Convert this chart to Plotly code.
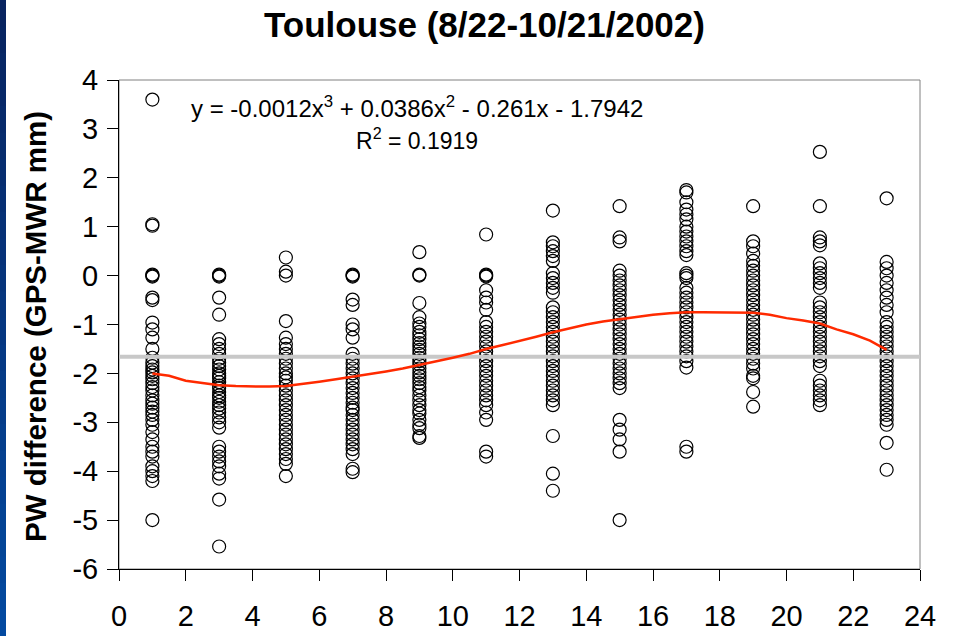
import plotly.graph_objects as go

# ---------------- data ----------------
HOURS = [1, 3, 5, 7, 9, 11, 13, 15, 17, 19, 21, 23]

H01 = [3.6, 1.05, 1.02, 0.02, 0.0, -0.02, -0.45, -0.5, -0.96, -1.1, -1.27, -1.5, -1.68, -1.78,
       -1.85, -1.92, -1.98, -2.05, -2.12, -2.2, -2.28, -2.35, -2.45, -2.55, -2.62, -2.7, -2.78,
       -2.85, -2.95, -3.05, -3.2, -3.35, -3.5, -3.6, -3.7, -3.9, -4.0, -4.1, -4.2, -5.0]
H03 = [0.02, 0.0, -0.02, -0.45, -0.8, -1.3, -1.4, -1.5, -1.6, -1.7, -1.78, -1.85, -1.92, -2.0,
       -2.05, -2.1, -2.18, -2.25, -2.3, -2.38, -2.45, -2.5, -2.58, -2.65, -2.72, -2.8, -2.9, -3.0,
       -3.11, -3.5, -3.6, -3.7, -3.8, -3.9, -4.05, -4.15, -4.58, -5.54]
H05 = [0.37, 0.08, 0.0, -0.93, -1.27, -1.4, -1.5, -1.6, -1.7, -1.8, -1.9, -2.0, -2.08, -2.15,
       -2.25, -2.35, -2.45, -2.55, -2.65, -2.75, -2.85, -2.95, -3.05, -3.15, -3.25, -3.35, -3.45,
       -3.55, -3.65, -3.75, -3.85, -4.1]
H07 = [0.02, 0.0, -0.02, -0.49, -0.6, -1.0, -1.1, -1.27, -1.6, -1.7, -1.8, -1.9, -2.0, -2.1,
       -2.2, -2.3, -2.4, -2.5, -2.6, -2.7, -2.75, -2.85, -2.95, -3.05, -3.15, -3.25, -3.35, -3.45,
       -3.55, -3.65, -3.95, -4.02]
H09 = [0.48, 0.02, 0.0, -0.56, -0.85, -0.98, -1.05, -1.15, -1.22, -1.3, -1.38, -1.45, -1.52,
       -1.6, -1.68, -1.75, -1.82, -1.9, -1.98, -2.05, -2.12, -2.2, -2.28, -2.35, -2.45, -2.55,
       -2.65, -2.75, -2.82, -2.95, -3.05, -3.12, -3.28, -3.32]
H11 = [0.84, 0.02, 0.0, -0.02, -0.3, -0.45, -0.55, -0.7, -0.95, -1.05, -1.15, -1.25, -1.35,
       -1.45, -1.55, -1.65, -1.75, -1.85, -1.95, -2.05, -2.15, -2.25, -2.35, -2.45, -2.55,
       -2.65, -2.8, -2.95, -3.6, -3.7]
H13 = [1.33, 0.68, 0.6, 0.5, 0.4, 0.3, 0.05, -0.05, -0.15, -0.25, -0.35, -0.65, -0.75, -0.85,
       -0.95, -1.05, -1.15, -1.25, -1.35, -1.45, -1.55, -1.65, -1.75, -1.85, -1.95, -2.05,
       -2.15, -2.25, -2.35, -2.45, -2.55, -2.65, -3.28, -4.05, -4.4]
H15 = [1.42, 0.78, 0.7, 0.1, 0.0, -0.1, -0.2, -0.3, -0.4, -0.5, -0.6, -0.7, -0.8, -0.9, -1.0,
       -1.1, -1.2, -1.3, -1.4, -1.5, -1.6, -1.7, -1.8, -1.9, -2.0, -2.1, -2.2, -2.3, -2.95,
       -3.15, -3.35, -3.6, -5.0]
H17 = [1.75, 1.7, 1.5, 1.35, 1.25, 1.15, 1.0, 0.9, 0.8, 0.7, 0.6, 0.5, 0.42, 0.05, 0.0, -0.05,
       -0.25, -0.35, -0.45, -0.55, -0.65, -0.75, -0.85, -0.95, -1.05, -1.15, -1.25, -1.35,
       -1.45, -1.55, -1.65, -1.75, -1.88, -3.5, -3.6]
H19 = [1.42, 0.7, 0.6, 0.45, 0.3, 0.2, 0.1, 0.0, -0.1, -0.2, -0.3, -0.4, -0.5, -0.6, -0.7,
       -0.8, -0.9, -1.0, -1.1, -1.2, -1.3, -1.4, -1.5, -1.6, -1.7, -1.8, -1.9, -2.05, -2.1,
       -2.38, -2.68]
H21 = [2.53, 1.42, 0.78, 0.7, 0.62, 0.25, 0.15, 0.05, -0.05, -0.15, -0.25, -0.55, -0.65,
       -0.75, -0.85, -0.95, -1.05, -1.15, -1.25, -1.35, -1.45, -1.55, -1.65, -1.75, -1.85,
       -2.15, -2.25, -2.35, -2.45, -2.55, -2.65]
H23 = [1.58, 0.28, 0.15, 0.0, -0.15, -0.3, -0.45, -0.6, -0.75, -0.95, -1.05, -1.15, -1.25,
       -1.35, -1.45, -1.55, -1.65, -1.75, -1.85, -1.95, -2.05, -2.15, -2.25, -2.35, -2.45,
       -2.55, -2.65, -2.75, -2.85, -2.95, -3.05, -3.42, -3.97]

COLUMNS = [H01, H03, H05, H07, H09, H11, H13, H15, H17, H19, H21, H23]

MEAN_DIFF = -1.66

TREND_X = [1.0, 1.5, 2.0, 2.5, 3.0, 3.5, 4.0, 4.5, 5.0, 5.5, 6.0, 6.5, 7.0, 7.5, 8.0, 8.5,
           9.0, 9.5, 10.0, 10.5, 11.0, 11.5, 12.0, 12.5, 13.0, 13.5, 14.0, 14.5, 15.0, 15.5,
           16.0, 16.5, 17.0, 17.5, 18.0, 18.5, 19.0, 19.5, 20.0, 20.5, 21.0, 21.5, 22.0, 22.5,
           23.0]
TREND_Y = [-2.0, -2.05, -2.15, -2.2, -2.24, -2.26, -2.27, -2.27, -2.26, -2.22, -2.17, -2.12,
           -2.07, -2.02, -1.96, -1.9, -1.83, -1.76, -1.68, -1.6, -1.5, -1.42, -1.34, -1.25,
           -1.16, -1.08, -1.0, -0.94, -0.89, -0.84, -0.8, -0.77, -0.75, -0.75, -0.75, -0.75,
           -0.76, -0.8, -0.87, -0.92, -0.98, -1.1, -1.2, -1.33, -1.52]

X_TICKS = list(range(0, 25, 2))
Y_TICKS = list(range(-6, 5, 1))

TITLE = "Toulouse (8/22-10/21/2002)"
Y_TITLE = "PW difference (GPS-MWR mm)"
EQUATION = "y = -0.0012x<sup>3</sup> + 0.0386x<sup>2</sup> - 0.261x - 1.7942"
R_SQUARED = "R<sup>2</sup> = 0.1919"

# ---------------- layout geometry ----------------
W, H = 956, 636
ML, MR, MT, MB = 119, 36, 80, 67
PWID = W - ML - MR
PHGT = H - MT - MB


def px_x(p):
    return (p - ML) / PWID


def px_y(p):
    return (H - MB - p) / PHGT


FONT = "Liberation Sans, Arial, sans-serif"

xs, ys = [], []
for h, vals in zip(HOURS, COLUMNS):
    xs += [h] * len(vals)
    ys += vals

fig = go.Figure()
fig.add_trace(go.Scatter(
    x=xs, y=ys, mode="markers",
    marker=dict(symbol="circle-open", size=13, color="black", line=dict(width=1.2)),
    showlegend=False, hoverinfo="skip"))
fig.add_trace(go.Scatter(
    x=[0, 24], y=[MEAN_DIFF, MEAN_DIFF], mode="lines",
    line=dict(color="#c8c8c8", width=4), showlegend=False, hoverinfo="skip"))
fig.add_trace(go.Scatter(
    x=TREND_X, y=TREND_Y, mode="lines",
    line=dict(color="#ff2a00", width=2.5), showlegend=False, hoverinfo="skip"))

shapes = [dict(type="rect", xref="paper", yref="paper", x0=0, x1=1, y0=0, y1=1,
               line=dict(color="#808080", width=1), layer="below")]
# blue slide edge on the left
n = 24
for i in range(n):
    t = i / (n - 1)
    r = int(8 + (4 - 8) * t)
    g = int(36 + (74 - 36) * t)
    b = int(96 + (160 - 96) * t)
    y_top = i * H / n
    y_bot = (i + 1) * H / n + 1
    shapes.append(dict(type="rect", xref="paper", yref="paper",
                       x0=px_x(0), x1=px_x(6), y0=px_y(y_bot), y1=px_y(y_top),
                       fillcolor=f"rgb({r},{g},{b})", line=dict(width=0), layer="above"))

annotations = [
    dict(text="<b>" + TITLE + "</b>", xref="paper", yref="paper", x=px_x(484.5), y=px_y(24),
         xanchor="center", yanchor="middle", showarrow=False,
         font=dict(family=FONT, size=35, color="black")),
    dict(text=EQUATION, xref="paper", yref="paper", x=px_x(416.5), y=px_y(107),
         xanchor="center", yanchor="middle", showarrow=False,
         font=dict(family=FONT, size=24, color="black")),
    dict(text=R_SQUARED, xref="paper", yref="paper", x=px_x(416.5), y=px_y(139),
         xanchor="center", yanchor="middle", showarrow=False,
         font=dict(family=FONT, size=23, color="black")),
    dict(text="<b>" + Y_TITLE + "</b>", xref="paper", yref="paper", x=px_x(35), y=px_y(327),
         xanchor="center", yanchor="middle", textangle=-90, showarrow=False,
         font=dict(family=FONT, size=29.5, color="black")),
]

fig.update_layout(
    width=W, height=H,
    margin=dict(l=ML, r=MR, t=MT, b=MB, pad=0, autoexpand=False),
    paper_bgcolor="white", plot_bgcolor="white",
    xaxis=dict(range=[0, 24], tickvals=X_TICKS, ticktext=[str(v) for v in X_TICKS],
               automargin=False,
               showgrid=False, zeroline=False, showline=True, linecolor="black", linewidth=1,
               ticks="outside", ticklen=11, tickcolor="black", tickwidth=1,
               ticklabelstandoff=10,
               tickfont=dict(family=FONT, size=29, color="black")),
    yaxis=dict(range=[-6, 4], tickvals=Y_TICKS, ticktext=[str(v) for v in Y_TICKS],
               automargin=False,
               showgrid=False, zeroline=False, showline=True, linecolor="black", linewidth=1,
               ticks="outside", ticklen=11, tickcolor="black", tickwidth=1,
               ticklabelstandoff=3,
               tickfont=dict(family=FONT, size=29, color="black")),
    shapes=shapes, annotations=annotations,
)

fig.write_html("out.html")
